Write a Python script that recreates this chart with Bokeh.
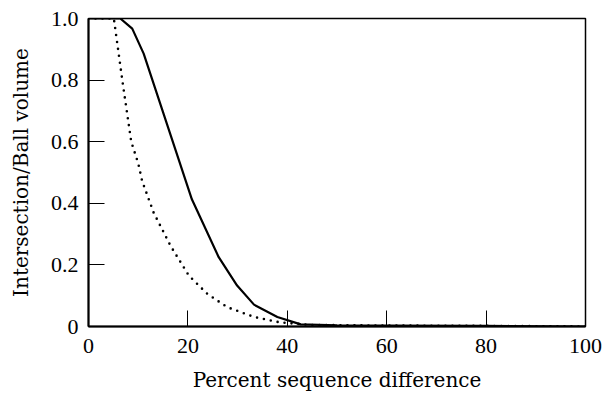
from bokeh.plotting import figure
from bokeh.models import FixedTicker, Range1d
from bokeh.embed import file_html
from bokeh.resources import INLINE

# Solid curve (Intersection/Ball volume)
solid_x = [0, 6.4, 8.8, 11.1, 20.8, 26.2, 29.9, 33.3, 38.0, 42.7, 50, 60, 80, 100]
solid_y = [1.0, 1.0, 0.967, 0.886, 0.413, 0.225, 0.133, 0.071, 0.031, 0.007, 0.004, 0.003, 0.002, 0.0]

# Dotted curve
dot_x = [0, 5.1, 6.8, 8.6, 10.0, 10.8, 13.1, 16.5, 20.2, 23.9, 27.9, 33.3, 38.6, 45, 60, 80, 100]
dot_y = [1.0, 1.0, 0.8, 0.6, 0.53, 0.472, 0.37, 0.262, 0.165, 0.106, 0.063, 0.031, 0.013, 0.005, 0.003, 0.002, 0.0]

x_ticks = [0, 20, 40, 60, 80, 100]
y_ticks = [0, 0.2, 0.4, 0.6, 0.8, 1.0]
y_tick_labels = ["0", "0.2", "0.4", "0.6", "0.8", "1.0"]

TICK_FONT = "Liberation Serif"
LABEL_FONT = "DejaVu Serif"

p = figure(width=604, height=394, output_backend="svg", toolbar_location=None,
           x_range=Range1d(0, 100), y_range=Range1d(0, 1),
           min_border_left=88, min_border_right=19, min_border_top=18, min_border_bottom=66)

p.line(solid_x, solid_y, line_color="black", line_width=2.2)
p.line(dot_x, dot_y, line_color="black", line_width=2.6, line_dash="0 7", line_cap="round")

p.grid.visible = False
p.outline_line_color = "black"
p.outline_line_width = 1.5
p.outline_line_alpha = 1.0

for ax in (p.xaxis[0], p.yaxis[0]):
    ax.axis_line_color = "black"
    ax.axis_line_width = 2
    ax.major_tick_in = 16
    ax.major_tick_out = 0
    ax.major_tick_line_color = "black"
    ax.major_tick_line_width = 1
    ax.minor_tick_line_color = None
    ax.major_label_text_font = TICK_FONT
    ax.major_label_text_font_size = "22px"
    ax.major_label_text_color = "black"
    ax.axis_label_text_font = LABEL_FONT
    ax.axis_label_text_font_size = "20px"
    ax.axis_label_text_font_style = "normal"
    ax.axis_label_text_color = "black"

p.xaxis[0].ticker = FixedTicker(ticks=x_ticks)
p.yaxis[0].ticker = FixedTicker(ticks=y_ticks)
p.yaxis[0].major_label_overrides = {t: l for t, l in zip(y_ticks, y_tick_labels)}
p.xaxis[0].major_label_standoff = 12
p.yaxis[0].major_label_standoff = 10
p.xaxis[0].axis_label = "Percent sequence difference"
p.yaxis[0].axis_label = "Intersection/Ball volume"
p.xaxis[0].axis_label_standoff = 12
p.yaxis[0].axis_label_standoff = 15

open("out.html", "w").write(file_html(p, INLINE))
